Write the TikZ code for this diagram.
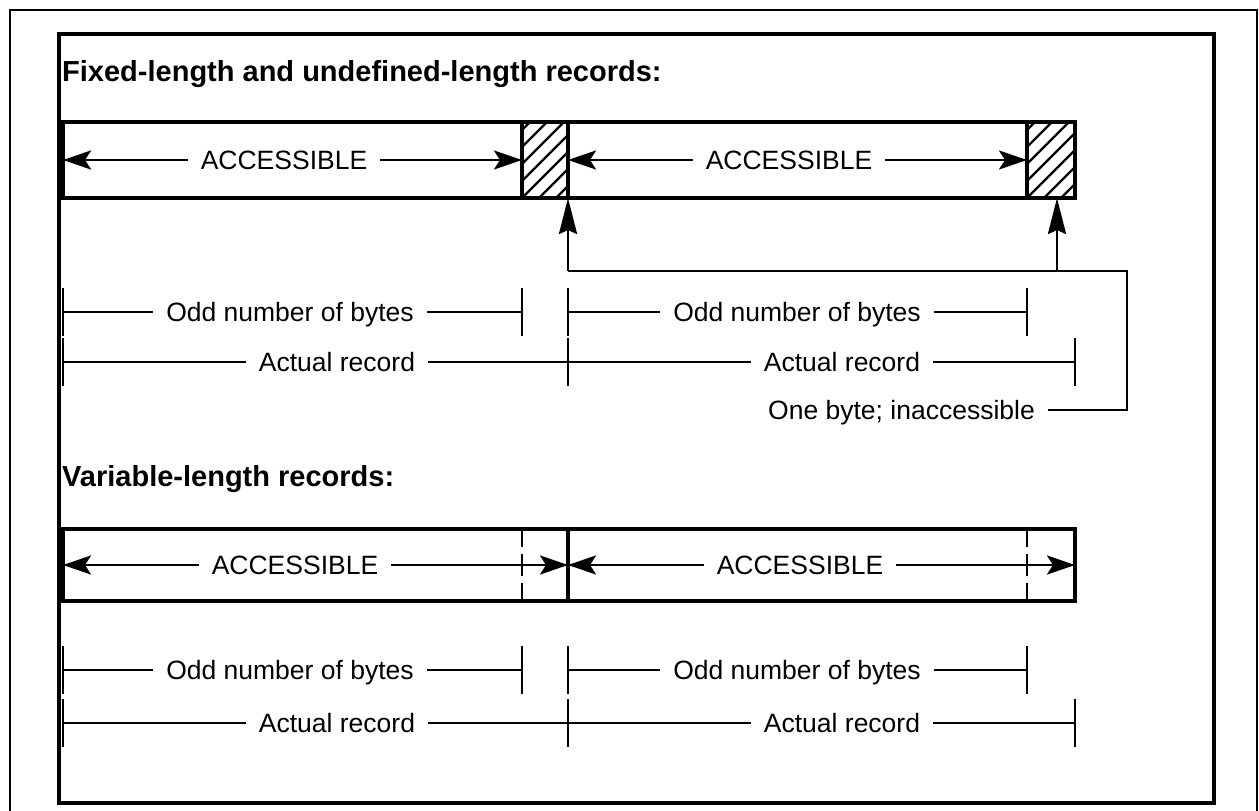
\documentclass[tikz,border=0pt]{standalone}
\usepackage{fontspec}
\setmainfont{Liberation Sans}
\usetikzlibrary{arrows.meta}
\begin{document}
\begin{tikzpicture}[x=1pt,y=-1pt,
  lbl/.style={font=\fontsize{26.5}{30}\selectfont, inner xsep=13pt, inner ysep=0pt, text height=19pt, text depth=0pt},
  hdr/.style={font=\bfseries\fontsize{29}{32}\selectfont, inner sep=0pt, text height=20.8pt, text depth=0pt, anchor=west},
  dimline/.style={line width=2.8pt},
  tickmark/.style={line width=2.8pt},
  acc/.style={line width=2.8pt, -{Stealth[length=28pt,width=19pt,inset=6pt]}},
  uparrow/.style={line width=2.8pt, -{Stealth[length=36pt,width=18pt,inset=4pt]}},
  boxline/.style={line width=3.2pt},
  hatchline/.style={line width=2.4pt},
  dashdiv/.style={line width=2.8pt, dash pattern=on 22pt off 7pt, dash phase=4pt},
  ]
\useasboundingbox (0,0) rectangle (1259,811);
% frames
\draw[line width=2pt] (10,815) -- (10,10) -- (1257,10) -- (1257,815);
\draw[line width=3.5pt] (59,34) rectangle (1214,803);

% ---------- section 1 ----------
\node[hdr] (h1) at (62,71) {Fixed-length and undefined-length records:};

\coordinate (b1tl) at (63,122);
\coordinate (b1br) at (1075,198);
% hatching
\begin{scope}
  \clip (522,122) rectangle (568,198);
  \foreach \i in {-6,...,3} \draw[hatchline] (522+\i*17,198) -- ++(80,-80);
\end{scope}
\begin{scope}
  \clip (1027,122) rectangle (1075,198);
  \foreach \i in {-6,...,3} \draw[hatchline] (1027+\i*17,198) -- ++(80,-80);
\end{scope}
\draw[boxline] (b1tl) rectangle (b1br);
\draw[boxline] (522,122) -- (522,198);
\draw[boxline] (568,122) -- (568,198);
\draw[boxline] (1027,122) -- (1027,198);

\coordinate (r1a) at (63,160);
\coordinate (r1b) at (522,160);
\coordinate (r1c) at (568,160);
\coordinate (r1d) at (1027,160);
\node[lbl] (acc1) at (284,160) {ACCESSIBLE};
\node[lbl] (acc2) at (789,160) {ACCESSIBLE};
\draw[acc] (acc1.west) -- (r1a);
\draw[acc] (acc1.east) -- (r1b);
\draw[acc] (acc2.west) -- (r1c);
\draw[acc] (acc2.east) -- (r1d);

% connector to "one byte"
\coordinate (p1) at (568,198);
\coordinate (p2) at (1057,198);
\coordinate (q1) at (568,271);
\coordinate (q2) at (1057,271);
\coordinate (q3) at (1127,271);
\coordinate (q4) at (1127,410);
\node[lbl, anchor=east] (one) at (1048,410) {One byte; inaccessible};
\draw[uparrow] (q1) -- (p1);
\draw[uparrow] (q2) -- (p2);
\draw[dimline] (q1) -- (q3) -- (q4) -- (one.east);

% odd number row 1
\coordinate (o1a) at (63,312);
\coordinate (o1b) at (522,312);
\coordinate (o1c) at (568,312);
\coordinate (o1d) at (1027,312);
\node[lbl] (o1t) at (290,312) {Odd number of bytes};
\node[lbl] (o1u) at (797,312) {Odd number of bytes};
\draw[dimline] (o1a) -- (o1t.west);
\draw[dimline] (o1t.east) -- (o1b);
\draw[dimline] (o1c) -- (o1u.west);
\draw[dimline] (o1u.east) -- (o1d);
\foreach \c in {o1a,o1b,o1c,o1d}
  \draw[tickmark] ([yshift=24pt]\c) -- ([yshift=-24pt]\c);

% actual record row 1
\coordinate (a1a) at (63,362);
\coordinate (a1m) at (568,362);
\coordinate (a1b) at (1075,362);
\node[lbl] (a1t) at (337,362) {Actual record};
\node[lbl] (a1u) at (842,362) {Actual record};
\draw[dimline] (a1a) -- (a1t.west);
\draw[dimline] (a1t.east) -- (a1m) -- (a1u.west);
\draw[dimline] (a1u.east) -- (a1b);
\foreach \c in {a1a,a1m,a1b}
  \draw[tickmark] ([yshift=24pt]\c) -- ([yshift=-24pt]\c);

% ---------- section 2 ----------
\node[hdr] (h2) at (62,476) {Variable-length records:};

\coordinate (b2tl) at (63,529);
\coordinate (b2br) at (1075,601);
\draw[boxline] (b2tl) rectangle (b2br);
\draw[boxline] (568,529) -- (568,601);
\draw[dashdiv] (522,529) -- (522,601);
\draw[dashdiv] (1027,529) -- (1027,601);

\coordinate (r2a) at (63,565);
\coordinate (r2c) at (568,565);
\coordinate (r2e) at (1075,565);
\node[lbl] (acc3) at (295,565) {ACCESSIBLE};
\node[lbl] (acc4) at (800,565) {ACCESSIBLE};
\draw[acc] (acc3.west) -- (r2a);
\draw[acc] (acc3.east) -- (r2c);
\draw[acc] (acc4.west) -- (r2c);
\draw[acc] (acc4.east) -- (r2e);

% odd number row 2
\coordinate (o2a) at (63,670);
\coordinate (o2b) at (522,670);
\coordinate (o2c) at (568,670);
\coordinate (o2d) at (1027,670);
\node[lbl] (o2t) at (290,670) {Odd number of bytes};
\node[lbl] (o2u) at (797,670) {Odd number of bytes};
\draw[dimline] (o2a) -- (o2t.west);
\draw[dimline] (o2t.east) -- (o2b);
\draw[dimline] (o2c) -- (o2u.west);
\draw[dimline] (o2u.east) -- (o2d);
\foreach \c in {o2a,o2b,o2c,o2d}
  \draw[tickmark] ([yshift=24pt]\c) -- ([yshift=-24pt]\c);

% actual record row 2
\coordinate (a2a) at (63,723);
\coordinate (a2m) at (568,723);
\coordinate (a2b) at (1075,723);
\node[lbl] (a2t) at (337,723) {Actual record};
\node[lbl] (a2u) at (842,723) {Actual record};
\draw[dimline] (a2a) -- (a2t.west);
\draw[dimline] (a2t.east) -- (a2m) -- (a2u.west);
\draw[dimline] (a2u.east) -- (a2b);
\foreach \c in {a2a,a2m,a2b}
  \draw[tickmark] ([yshift=24pt]\c) -- ([yshift=-24pt]\c);
\end{tikzpicture}
\end{document}
